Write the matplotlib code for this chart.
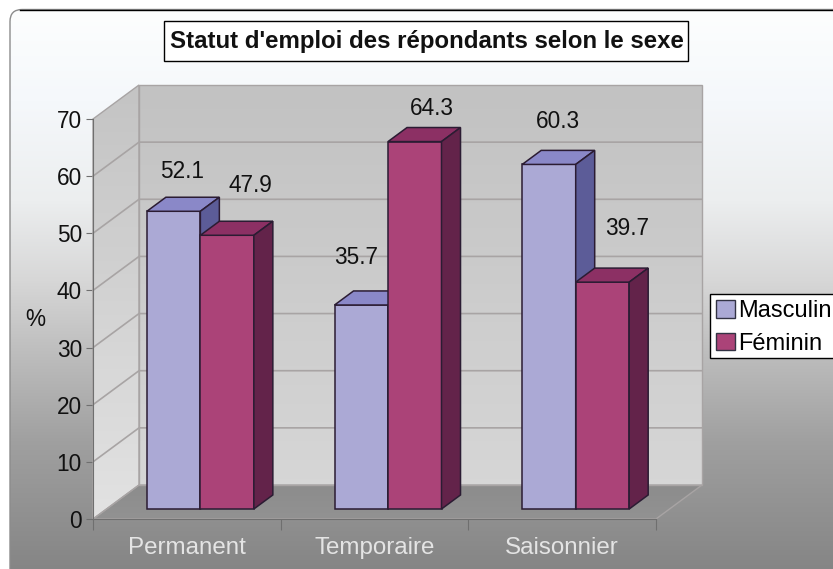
import numpy as np
import matplotlib
matplotlib.use('Agg')
import matplotlib.pyplot as plt
from matplotlib.patches import Polygon, Patch, FancyBboxPatch, Rectangle

plt.rcParams['font.family'] = ['Liberation Sans', 'DejaVu Sans']

categories = ['Permanent', 'Temporaire', 'Saisonnier']
masculin = [52.1, 35.7, 60.3]
feminin = [47.9, 64.3, 39.7]
yticks = [0, 10, 20, 30, 40, 50, 60, 70]
title = "Statut d'emploi des répondants selon le sexe"

# where the value labels sit, pixels away from the top of the bar front
masc_offsets = [(8, -40), (-5, -47), (9, -43)]
fem_offsets = [(23, -50), (17, -33), (25, -54)]

W, H = 833, 569
fig = plt.figure(figsize=(W / 100, H / 100), dpi=100, facecolor='white')

# BACKGROUND panel with the vertical gradient, in pixel coordinates
bg = fig.add_axes([0, 0, 1, 1], zorder=0)
bg.set_xlim(0, W)
bg.set_ylim(H, 0)
bg.axis('off')
stops_y = [10, 100, 200, 280, 350, 440, 569]
stops_c = [(253, 254, 254), (245, 248, 251), (236, 238, 239), (215, 215, 215),
           (190, 190, 190), (160, 160, 160), (133, 133, 133)]
rows = np.arange(H)
grad = np.stack([np.interp(rows, stops_y, [c[k] for c in stops_c]) for k in range(3)], axis=1) / 255
im = bg.imshow(grad[:, None, :], extent=[0, W, H, 0], aspect='auto', zorder=1)
panel = FancyBboxPatch((10, 9.5), W + 40, H + 40, boxstyle='round,pad=0,rounding_size=12',
                       fc='none', ec='#8c8c8c', lw=1, zorder=2)
bg.add_patch(panel)
im.set_clip_path(panel)
bg.plot([20, W], [9.5, 9.5], color='black', lw=1, zorder=3)
bg.set_xlim(0, W)
bg.set_ylim(H, 0)

# MAIN axes: front plane of the 3D box
left, right, top, bottom = 93, 656, 119, 519
ax = fig.add_axes([left / W, 1 - bottom / H, (right - left) / W, (bottom - top) / H], zorder=1)
ax.patch.set_visible(False)
ax.set_xlim(0, 3)
ax.set_ylim(0, 70)
dx = 46 / ((right - left) / 3)
dy = 34 / ((bottom - top) / 70)


def gradient_poly(pts, c_top, c_bottom, z):
    xs = [p[0] for p in pts]
    ys = [p[1] for p in pts]
    arr = np.linspace(c_top, c_bottom, 64)[:, None] * np.ones((64, 1))
    arr = np.repeat(arr[:, :, None], 3, axis=2) / 255
    img = ax.imshow(arr, extent=[min(xs), max(xs), min(ys), max(ys)], aspect='auto', zorder=z)
    poly = Polygon(pts, closed=True, fc='none', ec='#a8a4a4', lw=1, zorder=z + 0.1, clip_on=False)
    ax.add_patch(poly)
    img.set_clip_box(fig.bbox)
    img.set_clip_path(poly)


# WALLS and floor
gradient_poly([(dx, dy), (3 + dx, dy), (3 + dx, 70 + dy), (dx, 70 + dy)], 194, 214, 1)
gradient_poly([(0, 0), (dx, dy), (dx, 70 + dy), (0, 70)], 196, 226, 1)
gradient_poly([(0, 0), (3, 0), (3 + dx, dy), (dx, dy)], 140, 146, 1)
for v in yticks[1:-1]:
    ax.plot([0, dx, 3 + dx], [v, v + dy, v + dy], color='#a8a4a4', lw=1.2, zorder=2, clip_on=False)
ax.set_xlim(0, 3)
ax.set_ylim(0, 70)

# BARS
d0 = 10 / 34
d1 = d0 + 19 / 46
bar_w = 0.285
edge = '#2b1c33'


def draw_bars(x0, values, front, top_c, side):
    x_front = x0 + d0 * dx
    base = d0 * dy
    ax.bar(x_front, values, bar_w, bottom=base, align='edge', color=front, edgecolor=edge,
           linewidth=1.1, zorder=3, clip_on=False)
    for x, v in zip(x_front, values):
        ox = (d1 - d0) * dx
        oy = (d1 - d0) * dy
        y = base + v
        ax.add_patch(Polygon([(x, y), (x + bar_w, y), (x + bar_w + ox, y + oy), (x + ox, y + oy)],
                             fc=top_c, ec=edge, lw=1.1, zorder=3, clip_on=False))
        ax.add_patch(Polygon([(x + bar_w, base), (x + bar_w + ox, base + oy), (x + bar_w + ox, y + oy),
                              (x + bar_w, y)], fc=side, ec=edge, lw=1.1, zorder=3, clip_on=False))


# one group at a time so the nearer faces cover the others
pos = np.arange(len(categories)) + 0.5 - bar_w
for i in range(len(categories)):
    draw_bars(pos[[i]], [masculin[i]], '#aba9d5', '#8a88c8', '#5c5c98')
    draw_bars(pos[[i]] + bar_w, [feminin[i]], '#ab4378', '#8c3064', '#63234a')

for i in range(len(categories)):
    for vals, offs, x_add in [(masculin, masc_offsets, 0), (feminin, fem_offsets, bar_w)]:
        ax.annotate(str(vals[i]), (pos[i] + x_add + d0 * dx + bar_w / 2, vals[i] + d0 * dy),
                    xytext=(offs[i][0], -offs[i][1]), textcoords='offset pixels',
                    ha='center', va='center', fontsize=16.3, color='#111111', zorder=5,
                    annotation_clip=False)

# AXES
for s in ['top', 'right']:
    ax.spines[s].set_visible(False)
for s in ['left', 'bottom']:
    ax.spines[s].set_color('#6f6f6f')
    ax.spines[s].set_zorder(2.5)
ax.set_yticks(yticks)
ax.tick_params(axis='y', length=5, color='#6f6f6f', labelsize=16.3, labelcolor='#111111', pad=3)
ax.set_xticks([0, 1, 2, 3])
ax.set_xticklabels([])
ax.tick_params(axis='x', which='major', length=8, color='#6f6f6f')
ax.set_xticks(np.arange(len(categories)) + 0.5, minor=True)
ax.set_xticklabels(categories, minor=True)
ax.tick_params(axis='x', which='minor', length=0, labelsize=17.4, labelcolor='#e4e4e4', pad=13)
ax.set_ylabel('%', fontsize=16.3, rotation=0, color='#111111', va='center', ha='center')
ax.yaxis.set_label_coords((35 - left) / (right - left), (bottom - 320) / (bottom - top))

# TITLE box
bg.add_patch(Rectangle((165, 22), 524, 40, fc='#9a9a9a', ec='none', zorder=4))
bg.add_patch(Rectangle((164, 21), 524, 40, fc='white', ec='black', lw=1, zorder=5))
bg.text(426.5, 41, title, ha='center', va='center', fontsize=17.3, fontweight='bold',
        color='#111111', zorder=6)

# LEGEND, frame drawn apart so its height can match
bg.add_patch(Rectangle((710.5, 293.5), 140, 64, fc='white', ec='black', lw=1, zorder=5))
handles = [Patch(fc='#aba9d5', ec='#333344', lw=1, label='Masculin'),
           Patch(fc='#ab4378', ec='#333344', lw=1, label='Féminin')]
fig.legend(handles=handles, loc='upper left', bbox_to_anchor=(710 / W, 1 - 294 / H),
           borderaxespad=0, frameon=False, fontsize=17, handlelength=0.77, handleheight=0.77,
           handletextpad=0.17, labelspacing=0.43, borderpad=0.27).set_zorder(6)

fig.savefig('out.png', dpi=100, facecolor='white')
